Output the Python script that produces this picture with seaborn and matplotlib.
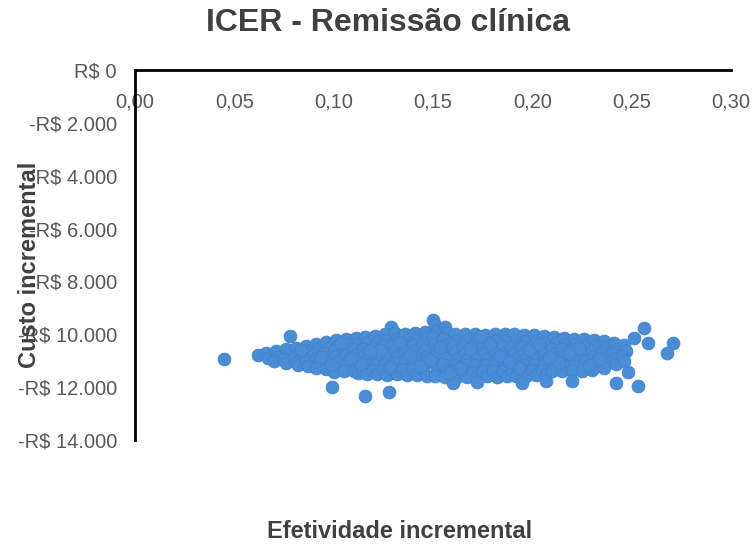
import matplotlib
matplotlib.use("Agg")
import matplotlib.pyplot as plt
from matplotlib.ticker import FuncFormatter
import seaborn as sns
import pandas as pd

# Incremental effectiveness (x) and incremental cost (y)
eff = [
    0.045, 0.062, 0.078, 0.099, 0.116, 0.128, 0.150, 0.129, 0.256, 0.271, 0.268, 0.253, 0.242, 0.248, 0.258, 0.251,
    0.066, 0.067,
    0.071, 0.072, 0.070,
    0.076, 0.077, 0.075, 0.076,
    0.081, 0.082, 0.080, 0.081, 0.082,
    0.086, 0.087, 0.085, 0.086, 0.087,
    0.091, 0.092, 0.090, 0.091, 0.092, 0.091,
    0.096, 0.097, 0.095, 0.096, 0.097, 0.096,
    0.101, 0.102, 0.100, 0.101, 0.102, 0.101, 0.100,
    0.106, 0.107, 0.105, 0.106, 0.107, 0.106, 0.105,
    0.111, 0.112, 0.110, 0.111, 0.112, 0.111, 0.110, 0.112,
    0.116, 0.117, 0.115, 0.116, 0.117, 0.116, 0.115, 0.117,
    0.121, 0.122, 0.120, 0.121, 0.122, 0.121, 0.120, 0.122,
    0.126, 0.127, 0.125, 0.126, 0.127, 0.126, 0.125, 0.127,
    0.131, 0.132, 0.130, 0.131, 0.132, 0.131, 0.130, 0.132,
    0.136, 0.137, 0.135, 0.136, 0.137, 0.136, 0.135, 0.137,
    0.141, 0.142, 0.140, 0.141, 0.142, 0.141, 0.140, 0.142,
    0.146, 0.147, 0.145, 0.146, 0.147, 0.146, 0.145, 0.147,
    0.151, 0.152, 0.150, 0.151, 0.152, 0.151, 0.150, 0.152, 0.151,
    0.156, 0.157, 0.155, 0.156, 0.157, 0.156, 0.155, 0.157, 0.156,
    0.161, 0.162, 0.160, 0.161, 0.162, 0.161, 0.160, 0.162,
    0.166, 0.167, 0.165, 0.166, 0.167, 0.166, 0.165, 0.167,
    0.171, 0.172, 0.170, 0.171, 0.172, 0.171, 0.170, 0.172,
    0.176, 0.177, 0.175, 0.176, 0.177, 0.176, 0.175, 0.177,
    0.181, 0.182, 0.180, 0.181, 0.182, 0.181, 0.180, 0.182,
    0.186, 0.187, 0.185, 0.186, 0.187, 0.186, 0.185, 0.187,
    0.191, 0.192, 0.190, 0.191, 0.192, 0.191, 0.190, 0.192,
    0.196, 0.197, 0.195, 0.196, 0.197, 0.196, 0.195, 0.197,
    0.201, 0.202, 0.200, 0.201, 0.202, 0.201, 0.200, 0.202,
    0.206, 0.207, 0.205, 0.206, 0.207, 0.206, 0.205, 0.207,
    0.211, 0.212, 0.210, 0.211, 0.212, 0.211, 0.210,
    0.216, 0.217, 0.215, 0.216, 0.217, 0.216, 0.215,
    0.221, 0.222, 0.220, 0.221, 0.222, 0.221, 0.220,
    0.226, 0.227, 0.225, 0.226, 0.227, 0.226, 0.225,
    0.231, 0.232, 0.230, 0.231, 0.232, 0.231, 0.230,
    0.236, 0.237, 0.235, 0.236, 0.237, 0.236,
    0.241, 0.242, 0.240, 0.241, 0.242,
    0.246, 0.247, 0.245, 0.246,
    0.160, 0.195, 0.220, 0.172, 0.207,
    0.0835, 0.0935, 0.1035, 0.1135, 0.1235, 0.1335, 0.1435, 0.1535, 0.1635, 0.1735,
    0.1835, 0.1935, 0.2035, 0.2135, 0.2235, 0.2335, 0.0985, 0.1185, 0.1385, 0.1585,
    0.1785, 0.1985, 0.2185, 0.2285, 0.1085, 0.1285, 0.1485, 0.1685, 0.1885, 0.2085,
]
custo = [
    -10935, -10784, -10066, -11995, -12336, -12184, -9460, -9725, -9763, -10330, -10709, -11957, -11844, -11428, -10330, -10141,
    -10700, -10900,
    -10650, -10850, -11000,
    -10550, -10780, -10950, -11100,
    -10500, -10700, -10880, -11050, -11150,
    -10450, -10650, -10820, -11000, -11200,
    -10380, -10560, -10760, -10950, -11120, -11280,
    -10300, -10500, -10700, -10900, -11080, -11300,
    -10200, -10420, -10620, -10830, -11040, -11250, -11420,
    -10180, -10380, -10600, -10800, -11000, -11200, -11400,
    -10150, -10350, -10560, -10780, -10990, -11180, -11380, -11480,
    -10120, -10330, -10540, -10760, -10960, -11170, -11390, -11500,
    -10080, -10300, -10500, -10720, -10940, -11150, -11350, -11520,
    -10000, -10220, -10450, -10680, -10900, -11120, -11340, -11540,
    -9950, -10180, -10400, -10640, -10870, -11100, -11320, -11520,
    -9980, -10200, -10430, -10650, -10880, -11090, -11300, -11540,
    -9960, -10170, -10390, -10620, -10850, -11080, -11310, -11550,
    -9900, -10120, -10360, -10600, -10830, -11070, -11300, -11560,
    -9650, -9880, -10100, -10340, -10580, -10820, -11060, -11290, -11560,
    -9720, -9950, -10180, -10420, -10660, -10900, -11140, -11380, -11600,
    -9980, -10200, -10440, -10680, -10920, -11160, -11400, -11600,
    -9990, -10210, -10450, -10690, -10930, -11170, -11400, -11620,
    -10000, -10220, -10460, -10700, -10940, -11180, -11410, -11600,
    -10010, -10230, -10470, -10700, -10940, -11170, -11400, -11590,
    -10000, -10220, -10460, -10700, -10930, -11160, -11390, -11600,
    -9990, -10210, -10450, -10690, -10920, -11150, -11380, -11590,
    -10000, -10230, -10470, -10700, -10930, -11160, -11380, -11570,
    -10020, -10250, -10480, -10710, -10940, -11160, -11370, -11560,
    -10040, -10260, -10490, -10720, -10950, -11170, -11370, -11540,
    -10070, -10290, -10510, -10740, -10960, -11170, -11360, -11510,
    -10100, -10320, -10540, -10760, -10970, -11180, -11380,
    -10130, -10350, -10570, -10780, -10990, -11190, -11400,
    -10160, -10380, -10600, -10800, -11000, -11200, -11380,
    -10180, -10400, -10620, -10820, -11020, -11220, -11400,
    -10200, -10420, -10640, -10840, -11040, -11230, -11360,
    -10260, -10480, -10690, -10880, -11070, -11260,
    -10320, -10540, -10740, -10930, -11120,
    -10400, -10620, -10830, -11000,
    -11850, -11850, -11750, -11800, -11780,
    -10610, -10870, -10330, -11110, -10590, -10290, -11190, -10470, -11270, -10110,
    -10830, -11290, -10370, -11090, -10510, -10930, -11180, -10650, -10770, -11450,
    -10350, -10590, -10690, -11150, -10890, -11230, -10990, -10570, -11050, -10850,
]

x_ticks = [0.00, 0.05, 0.10, 0.15, 0.20, 0.25, 0.30]
y_ticks = [0, -2000, -4000, -6000, -8000, -10000, -12000, -14000]

df = pd.DataFrame({"eff": eff, "custo": custo})

sns.set_style("white")
plt.rcParams["font.family"] = ["Liberation Sans", "DejaVu Sans"]

fig = plt.figure(figsize=(7.55, 5.47), dpi=100)
ax = fig.add_axes([135 / 755, 1 - 440 / 547, (731 - 135) / 755, (440 - 70) / 547])

sns.scatterplot(data=df, x="eff", y="custo", ax=ax, color="#4A8CD6",
                s=85, edgecolor="#4483CC", linewidth=0.6, legend=False, zorder=3)

ax.set_xlim(0, 0.30)
ax.set_ylim(-14000, 0)
ax.set_xticks(x_ticks)
ax.set_yticks(y_ticks)

def fmt_x(v, pos):
    return f"{v:.2f}".replace(".", ",")

def fmt_y(v, pos):
    v = int(round(v))
    s = f"{abs(v):,}".replace(",", ".")
    return ("-R$ " if v < 0 else "R$ ") + s

ax.xaxis.set_major_formatter(FuncFormatter(fmt_x))
ax.yaxis.set_major_formatter(FuncFormatter(fmt_y))

for sp in ["top", "right"]:
    ax.spines[sp].set_visible(False)
ax.spines["bottom"].set_position(("data", 0))
ax.spines["bottom"].set_color("black")
ax.spines["bottom"].set_linewidth(2.0)
ax.spines["left"].set_color("black")
ax.spines["left"].set_linewidth(2.0)
ax.spines["bottom"].set_zorder(5)

ax.tick_params(axis="x", length=0, pad=16, labelsize=14.5, labelcolor="#595959")
ax.tick_params(axis="y", length=0, pad=13, labelsize=14.5, labelcolor="#595959")
ax.set_xlabel("")
ax.set_ylabel("")
ax.grid(False)

fig.text(388 / 755, 1 - 23 / 547, "ICER - Remissão clínica", ha="center", va="center",
         fontsize=23, fontweight="bold", color="#404040")
fig.text(400 / 755, 1 - 531 / 547, "Efetividade incremental", ha="center", va="center",
         fontsize=17, fontweight="bold", color="#404040")
fig.text(30 / 755, 1 - 265 / 547, "Custo incremental", ha="center", va="center",
         rotation=90, fontsize=17, fontweight="bold", color="#404040")

fig.savefig("out.png", dpi=100)
